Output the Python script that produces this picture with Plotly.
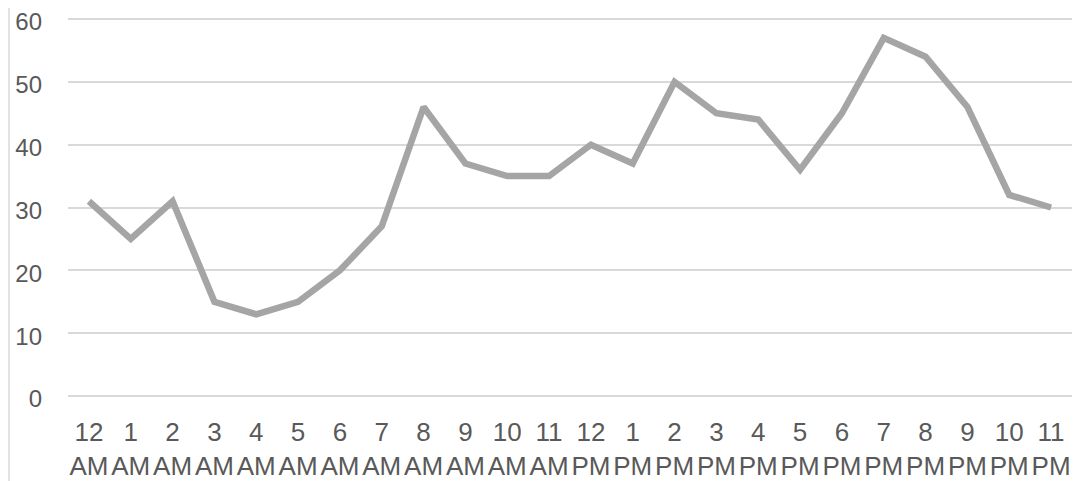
import plotly.graph_objects as go

hours = ["12", "1", "2", "3", "4", "5", "6", "7", "8", "9", "10", "11",
         "12", "1", "2", "3", "4", "5", "6", "7", "8", "9", "10", "11"]
periods = ["AM"] * 12 + ["PM"] * 12
values = [31, 25, 31, 15, 13, 15, 20, 27, 46, 37, 35, 35,
          40, 37, 50, 45, 44, 36, 45, 57, 54, 46, 32, 30]
y_ticks = [0, 10, 20, 30, 40, 50, 60]

labels = [f"{h}<br>{p}" for h, p in zip(hours, periods)]
xs = list(range(len(values)))

# page body has an 8px margin, so the figure is placed at (8, 8)
OFF = 8
W, H = 1081 - OFF, 481 - OFF
L, R, T, B = 68 - OFF, 9, 9, 83

fig = go.Figure()
fig.add_trace(go.Scatter(
    x=xs, y=values, mode="lines",
    line=dict(color="#A5A5A5", width=6.5, shape="linear"),
    showlegend=False, hoverinfo="y",
))

font = dict(family="Liberation Sans, Arial, sans-serif", size=26, color="#595959")
yfont = dict(family="Liberation Sans, Arial, sans-serif", size=24, color="#595959")

fig.update_layout(
    width=W, height=H,
    margin=dict(l=L, r=R, t=T, b=B, autoexpand=False),
    paper_bgcolor="white", plot_bgcolor="white",
    font=font,
    xaxis=dict(
        range=[-0.5, len(values) - 0.5],
        tickmode="array", tickvals=xs, ticktext=labels,
        showgrid=False, zeroline=False, showline=False,
        ticks="", ticklabelstandoff=16, automargin=False,
        tickfont=font, tickangle=0, ticklabeloverflow="allow",
    ),
    yaxis=dict(
        range=[-0.32, 60.32], tickmode="array", tickvals=y_ticks,
        showgrid=True, gridcolor="#D9D9D9", gridwidth=1.5,
        zeroline=False, showline=False, ticks="", ticklabeloverflow="allow",
        ticklabelstandoff=25, ticklabelshift=3,
        automargin=False, tickfont=yfont,
    ),
    shapes=[dict(
        type="line", xref="paper", yref="paper",
        x0=(1 - L) / (W - L - R), x1=(1 - L) / (W - L - R),
        y0=-B / (H - T - B), y1=1 + T / (H - T - B),
        line=dict(color="#D9D9D9", width=1.5),
    )],
)

fig.write_html("out.html")
